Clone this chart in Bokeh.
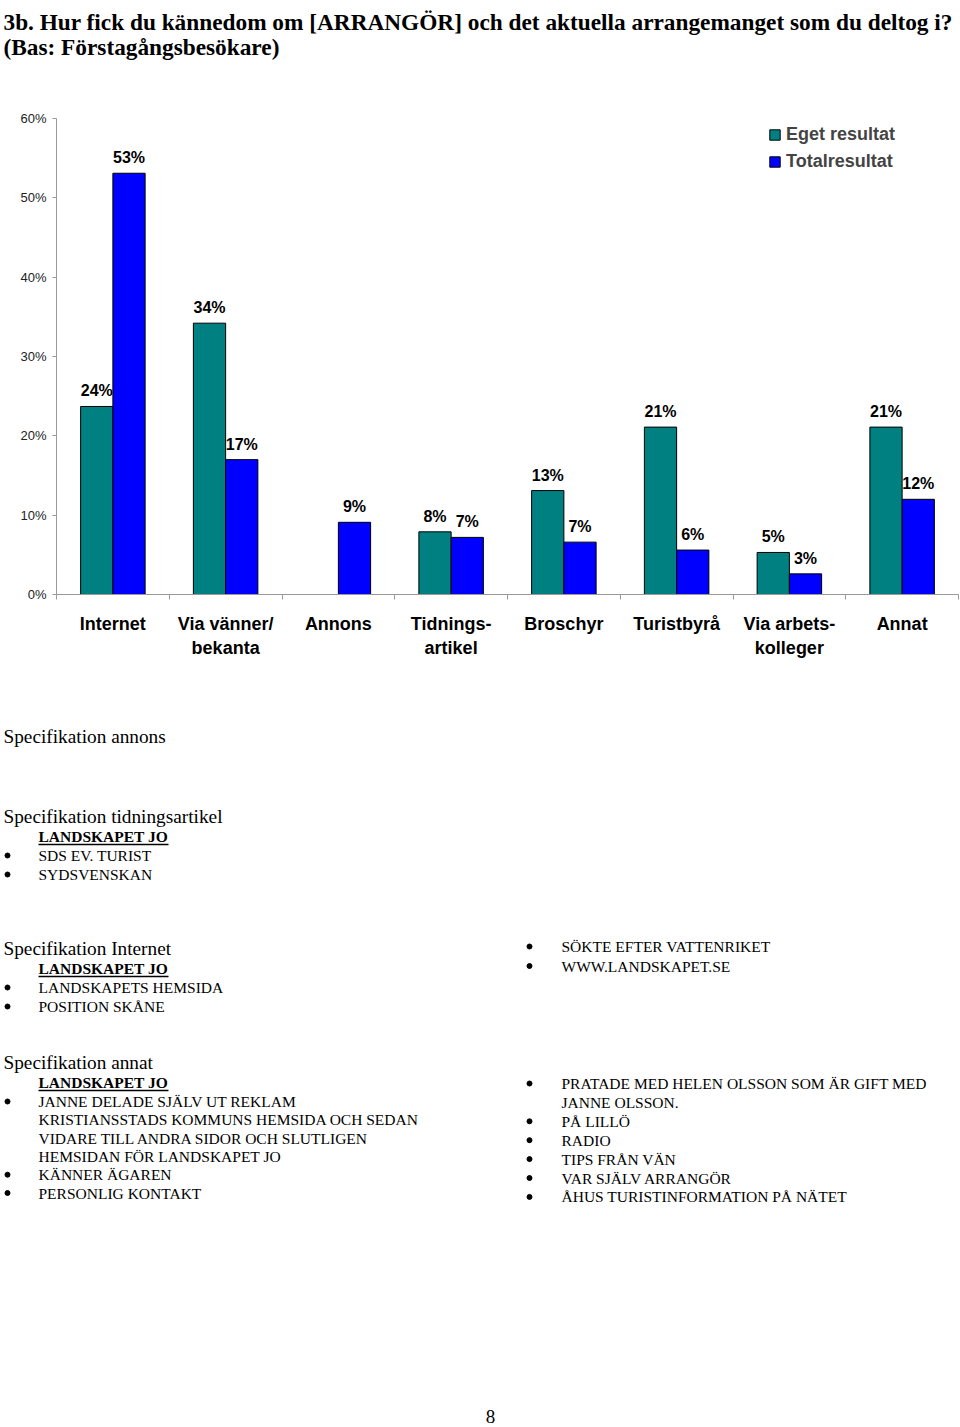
import numpy as np
from bokeh.plotting import figure
from bokeh.layouts import column, row
from bokeh.models import (ColumnDataSource, Range1d, FixedTicker, PrintfTickFormatter,
                          Legend, LegendItem)
from bokeh.core.properties import value
from bokeh.transform import dodge
from bokeh.embed import file_html
from bokeh.resources import INLINE

# ---------------- data ----------------
title_lines = ["3b. Hur fick du kännedom om [ARRANGÖR] och det aktuella arrangemanget som du deltog i?",
               "(Bas: Förstagångsbesökare)"]
categories = ["Internet", "Via vänner/\nbekanta", "Annons", "Tidnings-\nartikel",
              "Broschyr", "Turistbyrå", "Via arbets-\nkolleger", "Annat"]
eget = [23.7, 34.2, None, 7.9, 13.1, 21.1, 5.3, 21.1]
total = [53.1, 17.0, 9.1, 7.2, 6.6, 5.6, 2.6, 12.0]
series_names = ["Eget resultat", "Totalresultat"]
y_ticks = [0, 10, 20, 30, 40, 50, 60]

spec_annons_head = "Specifikation annons"
spec_tidning_head = "Specifikation tidningsartikel"
spec_tidning_items = ["SDS EV. TURIST", "SYDSVENSKAN"]
spec_internet_head = "Specifikation Internet"
spec_internet_items = ["LANDSKAPETS HEMSIDA", "POSITION SKÅNE"]
spec_internet_items_r = ["SÖKTE EFTER VATTENRIKET", "WWW.LANDSKAPET.SE"]
spec_annat_head = "Specifikation annat"
spec_annat_items = [["JANNE DELADE SJÄLV UT REKLAM", "KRISTIANSSTADS KOMMUNS HEMSIDA OCH SEDAN",
                     "VIDARE TILL ANDRA SIDOR OCH SLUTLIGEN", "HEMSIDAN FÖR LANDSKAPET JO"],
                    ["KÄNNER ÄGAREN"], ["PERSONLIG KONTAKT"]]
spec_annat_items_r = [["PRATADE MED HELEN OLSSON SOM ÄR GIFT MED", "JANNE OLSSON."],
                      ["PÅ LILLÖ"], ["RADIO"], ["TIPS FRÅN VÄN"], ["VAR SJÄLV ARRANGÖR"],
                      ["ÅHUS TURISTINFORMATION PÅ NÄTET"]]
org_name = "LANDSKAPET JO"
page_number = "8"

TEAL = "#008080"
BLUE = "#0000FF"
SANS = "Liberation Sans"
SERIF = "Liberation Serif"
W = 960


def blank(height, y0, y1):
    f = figure(width=W, height=height, x_range=Range1d(0, W), y_range=Range1d(y1, y0),
               output_backend="svg", toolbar_location=None, min_border=0,
               x_axis_location=None, y_axis_location=None)
    f.grid.visible = False
    f.outline_line_color = None
    return f


# ---------------- title ----------------
pt = blank(100, 0, 100)
pt.text(x=[3, 3], y=[21, 46], text=title_lines, text_font=value(SERIF),
        text_font_style="bold", text_font_size="23.3px", text_baseline="alphabetic",
        text_color="black")

# ---------------- chart ----------------
centers = np.arange(len(categories)) + 0.5
p = figure(width=W, height=600, x_range=Range1d(0, len(categories)), y_range=Range1d(0, 60),
           output_backend="svg", toolbar_location=None,
           min_border_left=56, min_border_right=2, min_border_top=18, min_border_bottom=106)
p.grid.visible = False
p.outline_line_color = None

idx_e = [i for i, v in enumerate(eget) if v is not None]
src_e = ColumnDataSource(dict(x=[centers[i] for i in idx_e], top=[eget[i] for i in idx_e],
                              lab=[f"{round(eget[i])}%" for i in idx_e]))
src_t = ColumnDataSource(dict(x=list(centers), top=total, lab=[f"{round(v)}%" for v in total]))

bw = 0.286
r_e = p.vbar(x=dodge("x", -bw / 2, range=p.x_range), top="top", width=bw, source=src_e,
             fill_color=TEAL, line_color="black", line_width=1)
r_t = p.vbar(x=dodge("x", bw / 2, range=p.x_range), top="top", width=bw, source=src_t,
             fill_color=BLUE, line_color="black", line_width=1)
for src, off in ((src_e, -bw / 2), (src_t, bw / 2)):
    p.text(x=dodge("x", off, range=p.x_range), y="top", text="lab", source=src,
           text_font=value(SANS), text_font_style="bold", text_font_size="16px",
           text_align="center", text_baseline="bottom", y_offset=-7, text_color="black")

# axes
p.yaxis.ticker = FixedTicker(ticks=y_ticks, minor_ticks=[])
p.yaxis.formatter = PrintfTickFormatter(format="%d%%")
p.yaxis.axis_line_color = "#999999"
p.yaxis.major_tick_line_color = "#999999"
p.yaxis.major_tick_out = 4
p.yaxis.major_tick_in = 0
p.yaxis.major_label_standoff = 6
p.yaxis.major_label_text_font = SANS
p.yaxis.major_label_text_font_size = "13px"
p.yaxis.major_label_text_color = "#222222"

p.xaxis.ticker = FixedTicker(ticks=list(centers), minor_ticks=list(range(len(categories) + 1)))
p.xaxis.major_label_overrides = {float(c): lab for c, lab in zip(centers, categories)}
p.xaxis.axis_line_color = "#999999"
p.xaxis.major_tick_out = 0
p.xaxis.major_tick_in = 0
p.xaxis.minor_tick_out = 5
p.xaxis.minor_tick_in = 0
p.xaxis.minor_tick_line_color = "#999999"
p.xaxis.major_label_standoff = 14
p.xaxis.major_label_text_font = SANS
p.xaxis.major_label_text_font_style = "bold"
p.xaxis.major_label_text_font_size = "18px"
p.xaxis.major_label_text_color = "black"
p.xaxis.major_label_orientation = "horizontal"

legend = Legend(items=[LegendItem(label=series_names[0], renderers=[r_e]),
                       LegendItem(label=series_names[1], renderers=[r_t])],
                location=(712, 422), orientation="vertical")
legend.padding = 0
legend.margin = 0
legend.spacing = 6
legend.glyph_width = 13
legend.glyph_height = 13
legend.label_height = 21
legend.label_standoff = 5
legend.label_text_font = SANS
legend.label_text_font_style = "bold"
legend.label_text_font_size = "18px"
legend.border_line_color = None
legend.background_fill_alpha = 0
p.add_layout(legend, "center")

# ---------------- text section ----------------
pb = blank(727, 700, 1427)

heads_x, heads_y, heads_t = [], [], []
items_x, items_y, items_t = [], [], []
bul_x, bul_y = [], []
org_y = []


def head(t, y):
    heads_x.append(3); heads_y.append(y); heads_t.append(t)


def bullet_list(groups, x_text, x_bul, y0, step):
    y = y0
    for g in groups:
        bul_x.append(x_bul); bul_y.append(y)
        for line in g:
            items_x.append(x_text); items_y.append(y); items_t.append(line)
            y += step
    return y


head(spec_annons_head, 736)
head(spec_tidning_head, 816)
org_y.append(836)
bullet_list([[s] for s in spec_tidning_items], 38, 7, 855, 19)
head(spec_internet_head, 948)
org_y.append(968)
bullet_list([[s] for s in spec_internet_items], 38, 7, 987, 19)
bullet_list([[s] for s in spec_internet_items_r], 561, 529, 946, 19.5)
head(spec_annat_head, 1062)
org_y.append(1082)
bullet_list(spec_annat_items, 38, 7, 1101, 18.3)
bullet_list(spec_annat_items_r, 561, 529, 1083, 18.9)

pb.text(x=heads_x, y=heads_y, text=heads_t, text_font=value(SERIF), text_font_size="19.3px",
        text_baseline="middle", text_color="black")
pb.text(x=items_x, y=items_y, text=items_t, text_font=value(SERIF), text_font_size="15.5px",
        text_baseline="middle", text_color="black")
pb.text(x=[38] * len(org_y), y=org_y, text=[org_name] * len(org_y), text_font=value(SERIF),
        text_font_style="bold", text_font_size="15.5px", text_baseline="middle", text_color="black")
pb.segment(x0=[38] * len(org_y), x1=[168] * len(org_y), y0=[y + 8 for y in org_y],
           y1=[y + 8 for y in org_y], line_color="black", line_width=1.3)
pb.scatter(x=bul_x, y=bul_y, marker="circle", size=5, fill_color="black", line_color="black")
pb.text(x=[490], y=[1416], text=[page_number], text_font=value(SERIF), text_font_size="19px",
        text_align="center", text_baseline="middle", text_color="black")

page = column(row(pt), row(p), row(pb), spacing=0)
open("out.html", "w").write(file_html(page, INLINE))
